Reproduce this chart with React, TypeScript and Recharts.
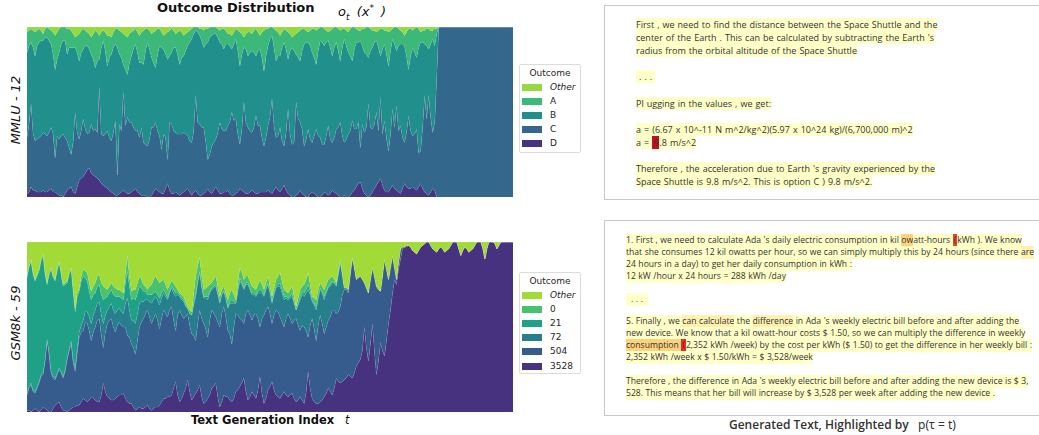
import { AreaChart, Area, XAxis, YAxis } from "recharts";

// top chart: MMLU question 12, share of each outcome per generated token
const mmluD = [
  2, 3, 6, 4, 4, 3, 3, 3, 4, 3, 3, 4, 5, 3, 3, 2, 1, 1, 0, 2,
  4, 5, 6, 3, 2, 6, 10, 11, 12, 14, 16, 17, 14, 13, 12, 11, 10, 8, 7, 6,
  5, 4, 3, 2, 1, 1, 2, 3, 4, 3, 2, 2, 3, 4, 5, 3, 2, 1, 1, 1,
  0, 0, 1, 3, 5, 4, 3, 2, 2, 5, 8, 4, 2, 2, 3, 2, 1, 2, 3, 4,
  5, 3, 1, 3, 4, 2, 1, 1, 2, 3, 5, 3, 2, 4, 6, 4, 2, 2, 3, 3,
  4, 2, 1, 1, 2, 3, 5, 4, 3, 2, 2, 3, 4, 3, 2, 2, 3, 3, 3, 3,
  4, 3, 2, 4, 6, 4, 3, 5, 7, 4, 2, 1, 0, 0, 1, 2, 4, 2, 1, 0,
  0, 2, 3, 2, 1, 0, 0, 1, 3, 2, 1, 2, 4, 3, 2, 1, 0, 0, 1, 0,
  0, 1, 3, 4, 6, 8, 9, 5, 2, 1, 0, 1, 3, 5, 7, 9, 11, 7, 4, 3,
  3, 5, 7, 5, 4, 3, 2, 5, 8, 6, 5, 5, 6, 5, 4, 6, 8, 5, 3, 2,
  1, 3, 5, 4, 0, 0, 0, 0,
  0, 0, 0, 0, 0, 0, 0, 0, 0, 0, 0, 0, 0, 0, 0, 0, 0, 0, 0, 0, 0, 0, 0, 0, 0, 0, 0, 0, 0, 0, 0, 0, 0, 0, 0,
];
const mmluC = [
  33, 40, 49, 34, 29, 31, 32, 33, 34, 34, 33, 34, 36, 34, 20, 34, 33, 35, 37, 33,
  29, 24, 19, 30, 48, 32, 24, 28, 34, 26, 21, 21, 29, 26, 28, 27, 55, 29, 29, 31,
  34, 31, 30, 36, 44, 12, 41, 36, 58, 39, 45, 42, 41, 37, 34, 36, 33, 40, 31, 30,
  30, 34, 40, 38, 39, 35, 33, 26, 35, 30, 14, 40, 41, 37, 35, 35, 36, 35, 35, 33,
  31, 30, 31, 36, 56, 42, 42, 40, 39, 30, 17, 22, 28, 28, 28, 34, 42, 38, 36, 36,
  38, 42, 49, 44, 44, 34, 26, 36, 53, 42, 39, 36, 34, 38, 46, 40, 39, 32, 27, 32,
  38, 44, 56, 38, 29, 32, 38, 28, 23, 34, 50, 36, 31, 32, 55, 44, 40, 38, 29, 34,
  40, 32, 29, 34, 39, 36, 35, 30, 28, 34, 41, 32, 28, 32, 38, 40, 44, 36, 31, 34,
  37, 38, 42, 36, 34, 36, 20, 38, 36, 40, 55, 40, 37, 38, 43, 30, 48, 30, 41, 32,
  24, 32, 45, 36, 50, 36, 40, 30, 24, 32, 43, 34, 30, 32, 36, 20, 19, 36, 57, 44,
  59, 44, 33, 40, 70, 100, 100, 100,
  100, 100, 100, 100, 100, 100, 100, 100, 100, 100, 100, 100, 100, 100, 100, 100, 100, 100, 100, 100, 100, 100, 100, 100, 100, 100, 100, 100, 100, 100, 100, 100, 100, 100, 100,
];
const mmluB = [
  50, 46, 36, 50, 50, 55, 56, 56, 54, 57, 58, 54, 49, 47, 52, 45, 51, 54, 55, 57,
  51, 59, 63, 55, 38, 47, 46, 46, 41, 49, 52, 49, 41, 42, 36, 42, 16, 51, 56, 49,
  38, 47, 51, 50, 45, 75, 41, 43, 16, 33, 25, 35, 39, 46, 51, 46, 44, 38, 46, 55,
  61, 53, 41, 38, 32, 45, 53, 60, 50, 49, 59, 39, 42, 49, 50, 47, 41, 45, 45, 49,
  53, 58, 61, 57, 38, 53, 52, 51, 47, 57, 69, 69, 65, 64, 62, 56, 47, 50, 48, 51,
  48, 45, 37, 45, 47, 49, 46, 44, 32, 43, 42, 46, 48, 44, 35, 44, 45, 47, 44, 48,
  47, 46, 37, 46, 45, 47, 42, 55, 61, 49, 29, 49, 57, 54, 28, 36, 36, 46, 60, 57,
  51, 55, 53, 46, 38, 50, 57, 60, 58, 55, 50, 54, 51, 53, 51, 45, 36, 52, 61, 55,
  48, 44, 35, 47, 51, 47, 63, 46, 47, 43, 27, 45, 48, 48, 42, 49, 24, 50, 45, 49,
  50, 49, 41, 49, 32, 50, 48, 55, 57, 45, 27, 44, 52, 48, 42, 62, 64, 50, 30, 43,
  27, 43, 55, 45, 26, 0, 0, 0,
  0, 0, 0, 0, 0, 0, 0, 0, 0, 0, 0, 0, 0, 0, 0, 0, 0, 0, 0, 0, 0, 0, 0, 0, 0, 0, 0, 0, 0, 0, 0, 0, 0, 0, 0,
];
const mmluA = [
  12, 9, 8, 10, 14, 9, 8, 6, 4, 5, 6, 7, 8, 13, 20, 16, 14, 10, 8, 8,
  15, 11, 10, 8, 6, 10, 16, 13, 12, 9, 8, 9, 10, 15, 22, 17, 14, 9, 6, 11,
  18, 13, 10, 9, 9, 11, 14, 15, 18, 20, 22, 17, 14, 11, 9, 12, 16, 18, 20, 13,
  8, 11, 14, 18, 22, 15, 10, 9, 8, 12, 16, 15, 14, 10, 8, 13, 20, 15, 12, 10,
  8, 7, 6, 4, 2, 3, 4, 7, 10, 9, 8, 6, 5, 4, 4, 5, 7, 9, 12, 8,
  6, 7, 8, 7, 6, 12, 20, 12, 6, 9, 14, 12, 10, 13, 16, 11, 8, 15, 24, 16,
  10, 7, 5, 11, 18, 14, 12, 9, 8, 11, 16, 10, 6, 9, 12, 15, 18, 13, 9, 7,
  6, 9, 14, 17, 20, 13, 8, 9, 10, 7, 5, 10, 16, 12, 9, 13, 18, 11, 6, 9,
  12, 16, 20, 13, 8, 7, 6, 10, 14, 16, 18, 13, 10, 7, 5, 10, 16, 12, 8, 14,
  20, 12, 6, 10, 14, 10, 8, 7, 6, 14, 24, 16, 10, 14, 18, 11, 6, 7, 8, 10,
  12, 8, 5, 10, 3, 0, 0, 0,
  0, 0, 0, 0, 0, 0, 0, 0, 0, 0, 0, 0, 0, 0, 0, 0, 0, 0, 0, 0, 0, 0, 0, 0, 0, 0, 0, 0, 0, 0, 0, 0, 0, 0, 0,
];
const mmluOther = [
  3, 2, 1, 2, 3, 2, 1, 2, 4, 1, 0, 1, 2, 3, 5, 3, 1, 0, 0, 0,
  1, 1, 2, 4, 6, 5, 4, 2, 1, 2, 3, 4, 6, 4, 2, 3, 5, 3, 2, 3,
  5, 5, 6, 3, 1, 1, 2, 3, 4, 5, 6, 4, 3, 2, 1, 3, 5, 3, 2, 1,
  1, 2, 4, 3, 2, 1, 1, 3, 5, 4, 3, 2, 1, 2, 4, 3, 2, 3, 5, 4,
  3, 2, 1, 0, 0, 0, 1, 1, 2, 1, 1, 0, 0, 0, 0, 1, 2, 1, 1, 2,
  4, 4, 5, 3, 1, 2, 3, 4, 6, 4, 3, 3, 4, 2, 1, 3, 5, 3, 2, 1,
  1, 0, 0, 1, 2, 3, 5, 3, 1, 2, 3, 4, 6, 5, 4, 3, 2, 1, 1, 2,
  3, 2, 1, 1, 2, 1, 0, 0, 1, 2, 3, 2, 1, 0, 0, 1, 2, 1, 1, 2,
  3, 1, 0, 0, 1, 2, 2, 1, 1, 0, 0, 1, 2, 2, 3, 2, 1, 1, 2, 2,
  3, 2, 1, 0, 0, 1, 2, 3, 5, 3, 1, 1, 2, 1, 0, 1, 3, 2, 2, 1,
  1, 2, 2, 1, 1, 0, 0, 0,
  0, 0, 0, 0, 0, 0, 0, 0, 0, 0, 0, 0, 0, 0, 0, 0, 0, 0, 0, 0, 0, 0, 0, 0, 0, 0, 0, 0, 0, 0, 0, 0, 0, 0, 0,
];

// bottom chart: GSM8k question 59
const gsm3528 = [
  1, 1, 0, 1, 2, 1, 0, 1, 3, 2, 1, 0, 0, 2, 4, 5, 6, 3, 1, 1,
  0, 1, 2, 3, 3, 4, 4, 6, 8, 7, 6, 7, 9, 8, 7, 6, 6, 10, 17, 12,
  9, 8, 7, 7, 8, 9, 10, 10, 11, 8, 6, 5, 5, 3, 1, 2, 3, 2, 2, 3,
  4, 2, 1, 2, 3, 3, 4, 6, 8, 8, 9, 9, 10, 14, 18, 10, 6, 8, 11, 14,
  19, 12, 7, 9, 11, 13, 16, 9, 5, 6, 8, 10, 14, 15, 17, 9, 3, 6, 10, 9,
  9, 7, 6, 8, 12, 13, 15, 17, 20, 12, 7, 9, 12, 10, 8, 13, 21, 11, 5, 8,
  13, 15, 18, 13, 10, 9, 8, 10, 12, 10, 9, 10, 11, 8, 6, 7, 9, 7, 5, 12,
  24, 14, 8, 6, 5, 5, 6, 7, 9, 11, 14, 12, 10, 14, 20, 18, 17, 18, 19, 20,
  22, 21, 20, 23, 27, 29, 31, 36, 50, 38, 30, 40, 52, 36, 22, 30, 41, 36, 33, 42,
  52, 60, 70, 78, 75, 84, 90, 96, 97, 97, 98, 97, 95, 94, 93, 95, 97, 98, 99, 100,
  100, 98, 96, 95, 94, 96, 97, 96, 94, 95, 96, 98, 100, 100, 100, 96, 92, 95, 97, 96,
  94, 95, 96, 98, 100, 100, 100, 96, 90, 96, 100, 100, 100, 99, 96, 98, 100, 100, 100, 100, 100, 100, 100,
];
const gsm504 = [
  9, 13, 16, 11, 9, 13, 17, 20, 19, 28, 41, 34, 23, 18, 15, 17, 19, 20, 19, 23,
  31, 35, 38, 26, 21, 31, 40, 41, 40, 46, 46, 41, 33, 39, 43, 48, 49, 35, 21, 35,
  43, 46, 48, 43, 39, 42, 43, 41, 39, 42, 39, 39, 35, 35, 33, 40, 47, 51, 53, 55,
  56, 54, 51, 53, 55, 51, 45, 49, 52, 50, 47, 51, 52, 40, 30, 47, 54, 49, 44, 42,
  39, 39, 39, 36, 31, 39, 44, 46, 47, 43, 36, 44, 46, 43, 39, 44, 47, 52, 52, 47,
  39, 39, 34, 42, 46, 44, 40, 37, 32, 46, 53, 48, 42, 47, 50, 42, 29, 44, 52, 52,
  49, 43, 34, 44, 50, 50, 48, 43, 38, 45, 49, 45, 41, 46, 49, 44, 39, 44, 45, 36,
  20, 37, 47, 43, 37, 46, 51, 45, 37, 39, 40, 44, 50, 46, 38, 41, 45, 51, 53, 52,
  48, 60, 70, 62, 51, 50, 49, 42, 26, 35, 40, 38, 33, 44, 52, 42, 30, 44, 57, 42,
  26, 25, 22, 7, 3, 4, 6, 1, 0, 1, 0, 0, 0, 0, 0, 0, 0, 0, 0, 0,
  0, 0, 0, 0, 0, 0, 0, 0, 0, 0, 0, 0, 0, 0, 0, 0, 0, 0, 0, 0,
  0, 0, 0, 0, 0, 0, 0, 0, 0, 0, 0, 0, 0, 0, 0, 0, 0, 0, 0, 0, 0, 0, 0,
];
const gsm72 = [
  1, 1, 1, 1, 1, 1, 1, 1, 1, 1, 1, 1, 1, 1, 1, 1, 1, 1, 1, 1,
  1, 1, 2, 2, 2, 3, 3, 4, 6, 6, 7, 8, 10, 10, 10, 10, 10, 12, 14, 10,
  8, 8, 9, 10, 11, 9, 8, 8, 8, 14, 22, 16, 14, 16, 18, 16, 14, 12, 10, 8,
  6, 9, 12, 11, 10, 12, 14, 12, 10, 10, 10, 10, 11, 16, 20, 12, 8, 9, 10, 6,
  3, 7, 11, 18, 26, 24, 22, 18, 15, 18, 22, 16, 12, 15, 18, 16, 14, 11, 9, 11,
  13, 18, 24, 14, 6, 14, 22, 21, 20, 17, 15, 15, 15, 12, 10, 15, 20, 15, 11, 12,
  13, 12, 12, 12, 13, 15, 18, 17, 16, 12, 8, 12, 16, 10, 5, 12, 18, 18, 18, 22,
  28, 18, 10, 14, 18, 16, 15, 18, 20, 20, 19, 18, 16, 16, 16, 22, 26, 12, 1, 1,
  2, 1, 1, 0, 0, 0, 0, 0, 0, 0, 0, 0, 0, 0, 0, 0, 0, 0, 0, 0,
  0, 0, 0, 0, 0, 0, 0, 0, 0, 0, 0, 0, 0, 0, 0, 0, 0, 0, 0, 0,
  0, 0, 0, 0, 0, 0, 0, 0, 0, 0, 0, 0, 0, 0, 0, 0, 0, 0, 0, 0,
  0, 0, 0, 0, 0, 0, 0, 0, 0, 0, 0, 0, 0, 0, 0, 0, 0, 0, 0, 0, 0, 0, 0,
];
const gsm21 = [
  68, 70, 72, 68, 65, 65, 65, 67, 69, 50, 32, 46, 60, 58, 57, 60, 62, 57, 53, 50,
  44, 44, 42, 40, 33, 30, 24, 26, 26, 20, 18, 15, 14, 12, 10, 10, 10, 12, 14, 10,
  8, 8, 8, 9, 10, 8, 7, 8, 8, 12, 16, 14, 12, 13, 14, 12, 10, 8, 6, 5,
  3, 4, 5, 4, 3, 3, 4, 3, 2, 2, 1, 1, 1, 2, 2, 1, 1, 1, 1, 1,
  0, 0, 0, 1, 2, 1, 1, 1, 1, 1, 2, 1, 1, 1, 1, 1, 1, 0, 0, 0,
  1, 1, 2, 1, 0, 1, 2, 1, 1, 1, 1, 1, 1, 1, 1, 1, 2, 1, 1, 1,
  1, 1, 1, 1, 1, 1, 2, 2, 2, 1, 1, 1, 2, 1, 0, 1, 2, 1, 2, 2,
  3, 2, 1, 1, 2, 1, 1, 1, 2, 1, 1, 1, 1, 0, 0, 0, 0, 0, 0, 0,
  0, 0, 0, 0, 0, 0, 0, 0, 0, 0, 0, 0, 0, 0, 0, 0, 0, 0, 0, 0,
  0, 0, 0, 0, 0, 0, 0, 0, 0, 0, 0, 0, 0, 0, 0, 0, 0, 0, 0, 0,
  0, 0, 0, 0, 0, 0, 0, 0, 0, 0, 0, 0, 0, 0, 0, 0, 0, 0, 0, 0,
  0, 0, 0, 0, 0, 0, 0, 0, 0, 0, 0, 0, 0, 0, 0, 0, 0, 0, 0, 0, 0, 0, 0,
];
const gsm0 = [
  1, 1, 1, 1, 1, 1, 1, 1, 1, 1, 1, 1, 1, 1, 1, 1, 1, 1, 1, 1,
  1, 1, 1, 1, 2, 2, 2, 3, 4, 4, 5, 5, 5, 5, 6, 6, 6, 7, 8, 6,
  4, 4, 4, 5, 5, 4, 4, 4, 4, 6, 9, 6, 5, 5, 6, 6, 6, 5, 4, 3,
  3, 5, 6, 8, 9, 9, 9, 7, 6, 5, 5, 4, 3, 4, 4, 2, 1, 2, 2, 2,
  1, 2, 2, 6, 10, 9, 8, 6, 4, 5, 6, 4, 3, 4, 5, 4, 3, 3, 3, 3,
  4, 5, 6, 4, 2, 4, 6, 6, 5, 4, 4, 4, 4, 3, 3, 4, 6, 4, 3, 3,
  4, 3, 3, 3, 4, 5, 6, 5, 4, 3, 3, 4, 4, 3, 2, 3, 4, 4, 5, 6,
  7, 4, 2, 3, 4, 4, 3, 3, 4, 4, 4, 4, 3, 2, 2, 2, 2, 1, 0, 0,
  0, 0, 0, 0, 0, 0, 0, 0, 0, 0, 0, 0, 0, 0, 0, 0, 0, 0, 0, 0,
  0, 0, 0, 0, 0, 0, 0, 0, 0, 0, 0, 0, 0, 0, 0, 0, 0, 0, 0, 0,
  0, 0, 0, 0, 0, 0, 0, 0, 0, 0, 0, 0, 0, 0, 0, 0, 0, 0, 0, 0,
  0, 0, 0, 0, 0, 0, 0, 0, 0, 0, 0, 0, 0, 0, 0, 0, 0, 0, 0, 0, 0, 0, 0,
];
const gsmOther = [
  20, 14, 10, 18, 22, 19, 16, 10, 7, 18, 24, 18, 15, 20, 22, 16, 11, 18, 25, 24,
  23, 18, 15, 28, 39, 30, 27, 20, 16, 17, 18, 24, 29, 26, 24, 20, 19, 24, 26, 27,
  28, 26, 24, 26, 27, 28, 28, 29, 30, 18, 8, 20, 29, 28, 28, 24, 20, 22, 25, 26,
  28, 26, 25, 22, 20, 22, 24, 23, 22, 25, 28, 25, 23, 24, 26, 28, 30, 31, 32, 35,
  38, 40, 41, 30, 20, 14, 9, 20, 28, 27, 26, 25, 24, 22, 20, 26, 32, 28, 26, 30,
  34, 30, 28, 31, 34, 24, 15, 18, 22, 20, 20, 23, 26, 27, 28, 25, 22, 25, 28, 24,
  20, 26, 32, 27, 22, 20, 18, 23, 28, 29, 30, 28, 26, 32, 38, 33, 28, 26, 25, 22,
  18, 25, 32, 33, 34, 28, 24, 26, 28, 25, 22, 21, 20, 22, 24, 17, 10, 18, 27, 27,
  28, 18, 9, 15, 22, 21, 20, 22, 24, 27, 30, 22, 15, 20, 26, 28, 29, 20, 10, 16,
  22, 15, 8, 15, 22, 12, 4, 3, 3, 2, 2, 3, 5, 6, 7, 5, 3, 2, 1, 0,
  0, 2, 4, 5, 6, 4, 3, 4, 6, 5, 4, 2, 0, 0, 0, 4, 8, 5, 3, 4,
  6, 5, 4, 2, 0, 0, 0, 4, 10, 4, 0, 0, 0, 1, 4, 2, 0, 0, 0, 0, 0, 0, 0,
];

const mmluData = mmluD.map((v, i) => ({
  t: i,
  D: v,
  C: mmluC[i],
  B: mmluB[i],
  A: mmluA[i],
  Other: mmluOther[i],
}));

const gsmData = gsm3528.map((v, i) => ({
  t: i,
  "3528": v,
  "504": gsm504[i],
  "72": gsm72[i],
  "21": gsm21[i],
  "0": gsm0[i],
  Other: gsmOther[i],
}));

const mmluSeries = [
  { key: "Other", color: "#95d840" },
  { key: "A", color: "#3cb878" },
  { key: "B", color: "#218f8c" },
  { key: "C", color: "#33678c" },
  { key: "D", color: "#463480" },
];
const gsmSeries = [
  { key: "Other", color: "#a2da37" },
  { key: "0", color: "#4ac16d" },
  { key: "21", color: "#1fa187" },
  { key: "72", color: "#277f8e" },
  { key: "504", color: "#365c8d" },
  { key: "3528", color: "#46327e" },
];

const YELLOW = "#ffffc8";
const PALE = "#fff0b0";
const ORANGE = "#fdd27c";
const RED1 = "#c80d1e";
const RED2 = "#f0402a";

type Seg = [string, string?];
type Line = { y: number; segs: Seg[] };

const panelOne: Line[] = [
  { y: 24, segs: [["First , we need to find the distance between the Space Shuttle and the"]] },
  { y: 37, segs: [["center of the Earth . This can be calculated by subtracting the Earth 's"]] },
  { y: 50.5, segs: [["radius from the orbital altitude of the Space Shuttle"]] },
  { y: 76.5, segs: [[" . . . "]] },
  { y: 103, segs: [["Pl ugging in the values , we get:"]] },
  { y: 129, segs: [["a = (6.67 x 10^-11 N m^2/kg^2)(5.97 x 10^24 kg)/(6,700,000 m)^2"]] },
  { y: 142, segs: [["a = "], ["9", RED1], [".8 m/s^2"]] },
  { y: 168, segs: [["Therefore , the acceleration due to Earth 's gravity experienced by the"]] },
  { y: 181, segs: [["Space Shuttle is 9.8 m/s^2. This is option C ) 9.8 m/s^2."]] },
];

const panelTwo: Line[] = [
  { y: 240, segs: [["1. First , we need to calculate Ada 's daily electric consumption in kil "], ["ow", ORANGE], ["att-hours "], ["(", RED2], ["kWh ). We know"]] },
  { y: 252, segs: [["that she consumes 12 kil owatts per hour, so we can simply multiply this by 24 hours (since there "], ["are", PALE]] },
  { y: 264, segs: [["24 hours in a day) to get her daily consumption in kWh :"]] },
  { y: 276, segs: [["12 kW /hour x 24 hours = 288 kWh /day"]] },
  { y: 299, segs: [["  . . .  "]] },
  { y: 321, segs: [["5. Finally , we "], ["can ", PALE], ["calculate", PALE], [" the "], ["difference", PALE], [" in Ada 's weekly electric bill before and after adding the"]] },
  { y: 333, segs: [["new device. We know that a kil owatt-hour costs $ 1.50, so we can multiply the difference in weekly"]] },
  { y: 345, segs: [["consumption ", ORANGE], ["(", "#ee2a1c"], ["2,352 kWh /week) by the cost per kWh ($ 1.50) to get the difference in her weekly bill :"]] },
  { y: 357, segs: [["2,352 kWh /week x $ 1.50/kWh = $ 3,528/week"]] },
  { y: 381, segs: [["Therefore , the difference in Ada 's weekly electric bill before and after adding the new device is $ 3,"]] },
  { y: 393, segs: [["528. This means that her bill will increase by $ 3,528 per week after adding the new device ."]] },
];

function TextLines({ lines, x, size, gap }: { lines: Line[]; x: number; size: number; gap: number }) {
  return (
    <>
      {lines.map((line) => (
        <div
          key={line.y}
          style={{
            position: "absolute",
            left: x,
            top: line.y - 6.5,
            height: 13,
            lineHeight: "13px",
            fontFamily: "'Open Sans'",
            fontSize: size,
            wordSpacing: gap,
            color: "#333",
            whiteSpace: "pre",
          }}
        >
          {line.segs.map(([text, bg], i) => (
            <span
              key={i}
              style={{
                background: bg ?? YELLOW,
                display: "inline-block",
                padding: text.length === 1 ? "0 1px" : 0,
              }}
            >
              {text}
            </span>
          ))}
        </div>
      ))}
    </>
  );
}

function OutcomeLegend({ series, top, height }: { series: { key: string; color: string }[]; top: number; height: number }) {
  return (
    <div
      style={{
        position: "absolute",
        left: 519,
        top,
        width: 60,
        height,
        border: "1px solid #dcdcdc",
        borderRadius: 2,
        fontFamily: "'DejaVu Sans'",
        fontSize: 9,
        color: "#262626",
      }}
    >
      <div style={{ position: "absolute", top: 3, width: "100%", textAlign: "center", lineHeight: "11px" }}>Outcome</div>
      {series.map((s, i) => (
        <div key={s.key} style={{ position: "absolute", left: 2, top: 17 + i * 14.1, lineHeight: "11px", whiteSpace: "nowrap" }}>
          <span style={{ position: "absolute", left: 0, top: 2, width: 20, height: 7, background: s.color }} />
          <span style={{ position: "absolute", left: 28, fontStyle: s.key === "Other" ? "italic" : "normal" }}>{s.key}</span>
        </div>
      ))}
    </div>
  );
}

function StackChart({ data, series, top }: { data: any[]; series: { key: string; color: string }[]; top: number }) {
  return (
    <div style={{ position: "absolute", left: 27, top }}>
      <AreaChart width={486} height={170} data={data} stackOffset="expand" margin={{ top: 0, right: 0, bottom: 0, left: 0 }}>
        <XAxis dataKey="t" hide />
        <YAxis hide domain={[0, 1]} />
        {[...series].reverse().map((s) => (
          <Area
            key={s.key}
            dataKey={s.key}
            stackId="1"
            type="linear"
            fill={s.color}
            fillOpacity={1}
            stroke="#ffffff"
            strokeOpacity={0.25}
            strokeWidth={0.6}
            isAnimationActive={false}
            dot={false}
            activeDot={false}
          />
        ))}
      </AreaChart>
    </div>
  );
}

const label = { position: "absolute", whiteSpace: "nowrap", color: "#111" } as const;

export default function App() {
  return (
    <div style={{ position: "absolute", left: 0, top: 0, width: 1039, height: 435, background: "#fff", overflow: "hidden" }}>
      <div style={{ ...label, left: 157, top: 0, font: "bold 13px 'DejaVu Sans'", lineHeight: "16px" }}>Outcome Distribution</div>
      <div style={{ ...label, left: 338, top: 0, font: "italic 13px 'DejaVu Sans'", lineHeight: "16px", wordSpacing: 3 }}>
        o<sub style={{ fontSize: 9 }}>t</sub> (x<sup style={{ fontSize: 9 }}>*</sup> )
      </div>

      <div style={{ ...label, left: 15, top: 110, font: "italic 13px 'DejaVu Sans'", transform: "translate(-50%, -50%) rotate(-90deg)" }}>MMLU - 12</div>
      <div style={{ ...label, left: 15, top: 323, font: "italic 13px 'DejaVu Sans'", transform: "translate(-50%, -50%) rotate(-90deg)" }}>GSM8k - 59</div>

      <StackChart data={mmluData} series={mmluSeries} top={27} />
      <StackChart data={gsmData} series={gsmSeries} top={242} />

      <OutcomeLegend series={mmluSeries} top={64} height={87} />
      <OutcomeLegend series={gsmSeries} top={272} height={100} />

      <div style={{ ...label, left: 191, top: 413, font: "bold 11.5px 'DejaVu Sans'", lineHeight: "14px" }}>Text Generation Index</div>
      <div style={{ ...label, left: 345, top: 413, font: "italic 11.5px 'DejaVu Sans'", lineHeight: "14px" }}>t</div>

      <div style={{ position: "absolute", left: 604, top: 5, width: 440, height: 193, border: "1px solid #c8c8c8" }} />
      <div style={{ position: "absolute", left: 604, top: 220, width: 440, height: 194, border: "1px solid #c8c8c8" }} />
      <TextLines lines={panelOne} x={636} size={9} gap={0.7} />
      <TextLines lines={panelTwo} x={626} size={8.6} gap={0.3} />

      <div style={{ ...label, left: 729, top: 417, font: "600 12px 'Open Sans'", lineHeight: "16px", color: "#333" }}>Generated Text, Highlighted by</div>
      <div style={{ ...label, left: 918, top: 417, font: "12px 'Noto Sans'", lineHeight: "16px", color: "#333" }}>p(τ = t)</div>
    </div>
  );
}
